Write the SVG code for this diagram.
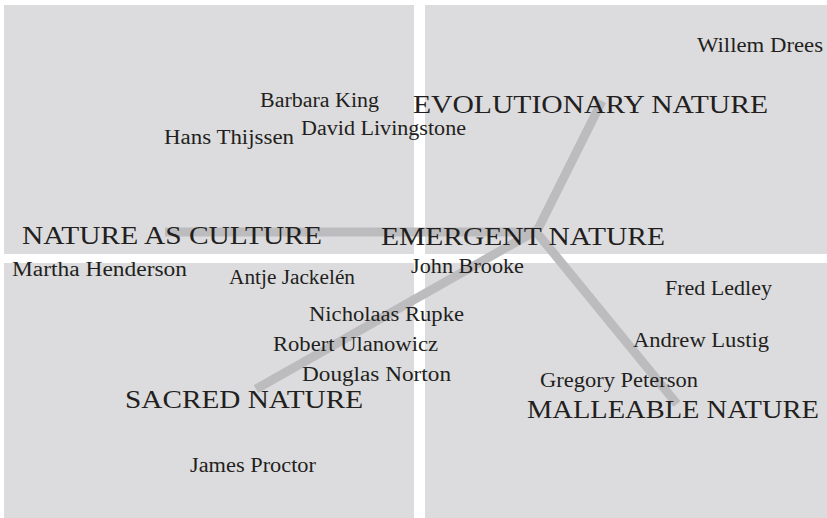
<svg xmlns="http://www.w3.org/2000/svg" width="827" height="518" viewBox="0 0 827 518">
<style>
.q{fill:#dcdcde}
.c{stroke:#bcbcbe;stroke-width:9;fill:none;stroke-linecap:butt}
.n{font-family:"Liberation Serif",serif;font-size:20px;fill:#231f20}
.h{font-family:"Liberation Serif",serif;font-size:25px;fill:#231f20}
</style>
<rect width="827" height="518" fill="#ffffff"/>
<g id="quadrants">
<rect class="q" x="4" y="5" width="410" height="249"/>
<rect class="q" x="425" y="5" width="402" height="249"/>
<rect class="q" x="4" y="263" width="410" height="255"/>
<rect class="q" x="425" y="263" width="402" height="255"/>
</g>
<g id="connectors">
<line class="c" x1="165" y1="232" x2="537" y2="232"/>
<line class="c" x1="535" y1="235" x2="602" y2="101"/>
<line class="c" x1="539" y1="229" x2="256" y2="389"/>
<line class="c" x1="533" y1="228" x2="677" y2="404"/>
</g>
<g id="node-emergent"><text class="h" x="381" y="245" textLength="284" lengthAdjust="spacingAndGlyphs">EMERGENT NATURE</text></g>
<g id="node-evolutionary"><text class="h" x="413" y="113" textLength="355" lengthAdjust="spacingAndGlyphs">EVOLUTIONARY NATURE</text></g>
<g id="node-culture"><text class="h" x="22" y="244" textLength="300" lengthAdjust="spacingAndGlyphs">NATURE AS CULTURE</text></g>
<g id="node-sacred"><text class="h" x="125" y="408" textLength="238" lengthAdjust="spacingAndGlyphs">SACRED NATURE</text></g>
<g id="node-malleable"><text class="h" x="527" y="418" textLength="292" lengthAdjust="spacingAndGlyphs">MALLEABLE NATURE</text></g>
<g id="names">
<text class="n" x="697" y="52" textLength="126" lengthAdjust="spacingAndGlyphs">Willem Drees</text>
<text class="n" x="260" y="107" textLength="119" lengthAdjust="spacingAndGlyphs">Barbara King</text>
<text class="n" x="164" y="144" textLength="130" lengthAdjust="spacingAndGlyphs">Hans Thijssen</text>
<text class="n" x="301" y="135" textLength="165" lengthAdjust="spacingAndGlyphs">David Livingstone</text>
<text class="n" x="12" y="276" textLength="175" lengthAdjust="spacingAndGlyphs">Martha Henderson</text>
<text class="n" x="411" y="273" textLength="113" lengthAdjust="spacingAndGlyphs">John Brooke</text>
<text class="n" x="229" y="284" textLength="126" lengthAdjust="spacingAndGlyphs">Antje Jackelén</text>
<text class="n" x="665" y="295" textLength="107" lengthAdjust="spacingAndGlyphs">Fred Ledley</text>
<text class="n" x="309" y="321" textLength="155" lengthAdjust="spacingAndGlyphs">Nicholaas Rupke</text>
<text class="n" x="273" y="351" textLength="165" lengthAdjust="spacingAndGlyphs">Robert Ulanowicz</text>
<text class="n" x="633" y="347" textLength="136" lengthAdjust="spacingAndGlyphs">Andrew Lustig</text>
<text class="n" x="302" y="381" textLength="149" lengthAdjust="spacingAndGlyphs">Douglas Norton</text>
<text class="n" x="540" y="387" textLength="158" lengthAdjust="spacingAndGlyphs">Gregory Peterson</text>
<text class="n" x="190" y="472" textLength="126" lengthAdjust="spacingAndGlyphs">James Proctor</text>
</g>
</svg>
